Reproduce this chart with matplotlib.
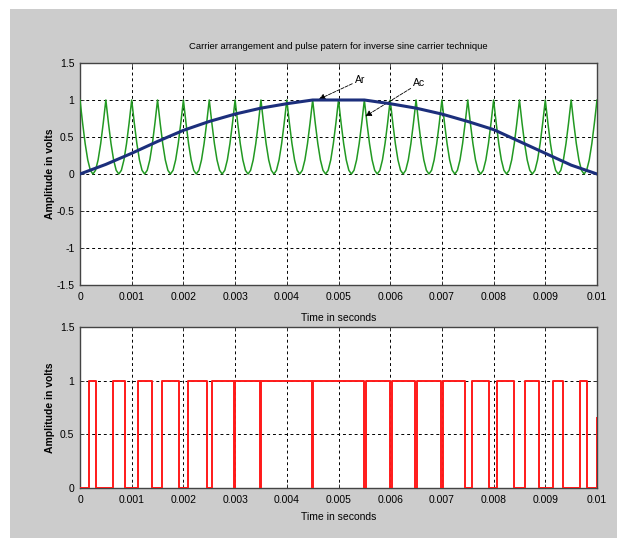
import numpy as np
import matplotlib
matplotlib.use("Agg")
import matplotlib.pyplot as plt
from matplotlib.patches import Rectangle

plt.rcParams['font.family'] = ['Liberation Sans', 'DejaVu Sans']

# reference wave (blue), sampled every 0.5 ms
ref_t = [0.0, 0.0005, 0.001, 0.0015, 0.002, 0.0025, 0.003, 0.0035, 0.004, 0.0045, 0.005,
         0.0055, 0.006, 0.0065, 0.007, 0.0075, 0.008, 0.0085, 0.009, 0.0095, 0.01]
ref_v = [0.0, 0.13, 0.28, 0.44, 0.59, 0.71, 0.81, 0.89, 0.95, 1.0, 1.0,
         1.0, 0.95, 0.89, 0.81, 0.71, 0.60, 0.44, 0.28, 0.12, 0.0]

# inverse sine carrier (green): one 0.5 ms period, repeated 20 times
carrier_period = [1.0, 0.69, 0.41, 0.19, 0.05, 0.0, 0.05, 0.19, 0.41, 0.69]
n_periods = 20

# pulse pattern (red): switching instants and the level after each one
pwm_t = [0.0, 0.00018, 0.00031, 0.00064, 0.00087, 0.00112, 0.00140, 0.00159, 0.00192,
         0.00208, 0.00245, 0.00256, 0.00297, 0.00300, 0.00348, 0.00351, 0.00448, 0.00451,
         0.00550, 0.00553, 0.00600, 0.00603, 0.00648, 0.00651, 0.00698, 0.00703, 0.00745,
         0.00758, 0.00792, 0.00806, 0.00840, 0.00861, 0.00888, 0.00914, 0.00935, 0.00968,
         0.00980, 0.01]
pwm_v = [0, 1, 0, 1, 0, 1, 0, 1, 0,
         1, 0, 1, 0, 1, 0, 1, 0, 1,
         0, 1, 0, 1, 0, 1, 0, 1, 0,
         1, 0, 1, 0, 1, 0, 1, 0, 1,
         0, 0.65]

xticks = [0, 0.001, 0.002, 0.003, 0.004, 0.005, 0.006, 0.007, 0.008, 0.009, 0.01]
xlabels = ['0', '0.001', '0.002', '0.003', '0.004', '0.005', '0.006', '0.007', '0.008', '0.009', '0.01']
top_yticks = [-1.5, -1, -0.5, 0, 0.5, 1, 1.5]
top_ylabels = ['-1.5', '-1', '-0.5', '0', '0.5', '1', '1.5']
bot_yticks = [0, 0.5, 1, 1.5]
bot_ylabels = ['0', '0.5', '1', '1.5']

W, H = 617, 538
fig = plt.figure(figsize=(W / 100, H / 100), dpi=100)
fig.patch.set_facecolor('white')
fig.add_artist(Rectangle((10 / W, 0), 1 - 10 / W, 1 - 9 / H, transform=fig.transFigure,
                         facecolor='#cccccc', edgecolor='none', zorder=-10))


def px_axes(x0, y0, x1, y1):
    return fig.add_axes([x0 / W, 1 - y1 / H, (x1 - x0) / W, (y1 - y0) / H])


def style(ax, yticks, ylabels, ylim, xlab_y):
    ax.set_xlim(0, 0.01)
    ax.set_ylim(*ylim)
    ax.set_xticks(xticks)
    ax.set_xticklabels(xlabels)
    ax.set_yticks(yticks)
    ax.set_yticklabels(ylabels)
    ax.tick_params(direction='in', length=3, width=0.6, labelsize=7.5, top=True, right=True,
                   colors='#333333', labelcolor='black')
    ax.tick_params(axis='x', pad=5)
    ax.tick_params(axis='y', pad=4)
    for s in ax.spines.values():
        s.set_color('#444444')
        s.set_linewidth(1.0)
    ax.grid(True, color='black', linestyle=(0, (3, 3)), linewidth=0.7)
    ax.set_axisbelow(True)
    ax.set_xlabel('Time in seconds', fontsize=7.5)
    ax.xaxis.set_label_coords(0.5, xlab_y)
    ax.set_ylabel('Amplitude in volts', fontsize=7.5, fontweight='bold')
    ax.yaxis.set_label_coords(-0.048, 0.5)


# top panel
ax1 = px_axes(80, 63, 597, 285)
carrier_v = np.append(np.tile(carrier_period, n_periods), carrier_period[0])
carrier_t = np.linspace(0, 0.01, len(carrier_v))
ax1.plot(carrier_t, carrier_v, color='#229922', linewidth=1.1, zorder=3)
ax1.plot(ref_t, ref_v, color='#1c2f7c', linewidth=2.2, zorder=4)
style(ax1, top_yticks, top_ylabels, (-1.5, 1.5), -0.125)
ax1.set_title('Carrier arrangement and pulse patern for inverse sine carrier technique',
              fontsize=6.8, pad=10)
ax1.annotate('Ar', xy=(0.00462, 1.01), xytext=(0.00532, 1.27), fontsize=7.5,
             va='center', ha='left',
             arrowprops=dict(arrowstyle='-|>', color='black', lw=0.6, mutation_scale=9,
                             linestyle=(0, (4, 1.5)), shrinkA=0, shrinkB=0))
ax1.annotate('Ac', xy=(0.00552, 0.78), xytext=(0.00645, 1.23), fontsize=7.5,
             va='center', ha='left',
             arrowprops=dict(arrowstyle='-|>', color='black', lw=0.6, mutation_scale=9,
                             linestyle=(0, (4, 1.5)), shrinkA=0, shrinkB=0))

# bottom panel
ax2 = px_axes(80, 327, 597, 488)
ax2.step(pwm_t, pwm_v, where='post', color='#ff1a1a', linewidth=1.4, zorder=3)
style(ax2, bot_yticks, bot_ylabels, (0, 1.5), -0.15)

fig.savefig('out.png', dpi=100)
